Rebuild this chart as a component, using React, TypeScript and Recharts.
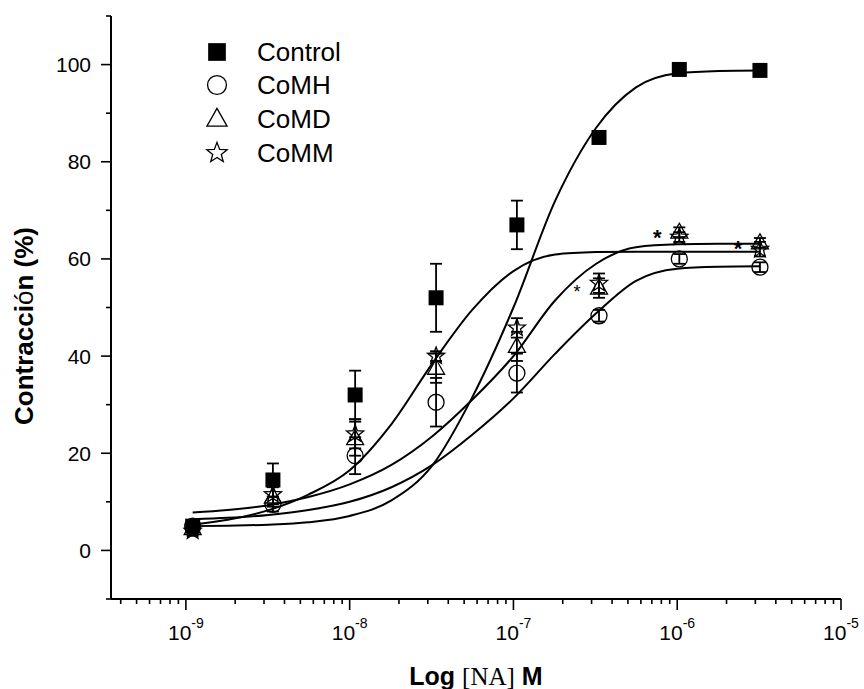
import React from 'react';
import { ComposedChart, XAxis, YAxis, Line, Scatter, ErrorBar } from 'recharts';

// concentraciones (M) de los puntos experimentales
const conc = [1.1e-9, 3.4e-9, 1.08e-8, 3.37e-8, 1.05e-7, 3.33e-7, 1.03e-6, 3.2e-6];

const controlMean = [5, 14.5, 32, 52, 67, 85, 99, 98.8];
const controlErr = [1, 3.4, 5, 7, 5, 1, 0.5, 0.5];
const comhMean = [5, 9.5, 19.5, 30.5, 36.5, 48.3, 60, 58.3];
const comhErr = [1, 1.5, 3.8, 5, 4, 1.2, 1, 1];
const comdMean = [4.5, 11, 23, 37.5, 42, 54, 65.5, 63.3];
const comdErr = [1, 2, 3.5, 3, 3, 2, 1, 1];
const commMean = [4, 11.5, 24, 40, 45.8, 55, 64.5, 62];
const commErr = [1, 2, 3, 1, 2, 2, 1, 1.5];

// curvas de ajuste
const fitX = [1.1e-9, 1.8e-9, 3.2e-9, 5.6e-9, 1e-8, 1.8e-8, 3.2e-8, 5.6e-8, 1e-7, 1.8e-7, 3.2e-7, 5.6e-7, 1e-6, 1.8e-6, 3.2e-6];
const fitControl = [5.0, 5.1, 5.3, 5.8, 7.1, 10.3, 17.5, 31.5, 50, 72, 87, 95.3, 98.2, 98.7, 98.8];
const fitCoMH = [6.4, 6.7, 7.3, 8.3, 10, 13, 17.6, 23.8, 31.3, 40.5, 48.8, 55.5, 58, 58.4, 58.5];
const fitCoMD = [7.8, 8.3, 9.3, 11, 13.6, 17.6, 23.5, 31, 40, 51.5, 59, 62.4, 63, 63.1, 63.1];
const fitCoMM = [5.3, 6.3, 8.3, 11.5, 16.5, 26, 38.5, 49.5, 57.5, 60.9, 61.4, 61.5, 61.5, 61.5, 61.5];

// asteriscos de significancia sobre CoMD
const sigIndex = [5, 6, 7];
const sigSize = [18, 22, 22];

const seriesNames = ['Control', 'CoMH', 'CoMD', 'CoMM'];

const xMajor = [1e-9, 1e-8, 1e-7, 1e-6, 1e-5];
const xMinorMult = [2, 3, 4, 5, 6, 7, 8, 9];
const xDomain = [3.49e-10, 1e-5];
const yTicks = [-10, 0, 10, 20, 30, 40, 50, 60, 70, 80, 90, 100, 110];
const yMajor = [0, 20, 40, 60, 80, 100];

const FONT = '"Liberation Sans", Arial, sans-serif';

const pts = (ys: number[], errs?: number[]) =>
  conc.map((x, i) => ({ x, y: ys[i], err: errs ? errs[i] : 0 }));
const fit = (ys: number[]) => fitX.map((x, i) => ({ x, y: ys[i] }));

const xTicks = [
  ...[1e-10, 1e-9, 1e-8, 1e-7, 1e-6].flatMap((d) => xMinorMult.map((m) => m * d)),
  ...xMajor,
]
  .filter((v) => v >= xDomain[0] && v <= xDomain[1])
  .sort((a, b) => a - b);

const isMajorX = (v: number) => xMajor.some((m) => Math.abs(v / m - 1) < 1e-6);

const XTick = (props: any) => {
  const { x, y, payload } = props;
  const v = payload.value;
  const major = isMajorX(v);
  const exp = Math.round(Math.log10(v));
  return (
    <g>
      <line x1={x} x2={x} y1={y} y2={y + (major ? 11 : 5)} stroke="#000" strokeWidth={1.6} />
      {major && (
        <text x={x} y={y + 41} textAnchor="middle" fontSize={21} fontFamily={FONT} fill="#000">
          10
          <tspan dy={-12} fontSize={14}>
            {exp}
          </tspan>
        </text>
      )}
    </g>
  );
};

const YTick = (props: any) => {
  const { x, y, payload } = props;
  const v = payload.value;
  const major = yMajor.includes(v);
  return (
    <g>
      <line x1={x - (major ? 10 : 5)} x2={x} y1={y} y2={y} stroke="#000" strokeWidth={1.6} />
      {major && (
        <text x={x - 20} y={y + 7.5} textAnchor="end" fontSize={21} fontFamily={FONT} fill="#000">
          {v}
        </text>
      )}
    </g>
  );
};

const starPoints = (cx: number, cy: number, ro: number, ri: number) => {
  const p: string[] = [];
  for (let k = 0; k < 10; k++) {
    const r = k % 2 === 0 ? ro : ri;
    const a = -Math.PI / 2 + (k * Math.PI) / 5;
    p.push(`${cx + r * Math.cos(a)},${cy + r * Math.sin(a)}`);
  }
  return p.join(' ');
};

const Marker = ({ kind, cx, cy, s = 1 }: { kind: string; cx: number; cy: number; s?: number }) => {
  if (kind === 'Control')
    return <rect x={cx - 7.5 * s} y={cy - 7.5 * s} width={15 * s} height={15 * s} fill="#000" />;
  if (kind === 'CoMH')
    return <circle cx={cx} cy={cy} r={8 * s} fill="none" stroke="#000" strokeWidth={1.3} />;
  if (kind === 'CoMD')
    return (
      <polygon
        points={`${cx},${cy - 9 * s} ${cx - 8.5 * s},${cy + 6 * s} ${cx + 8.5 * s},${cy + 6 * s}`}
        fill="none"
        stroke="#000"
        strokeWidth={1.3}
      />
    );
  return <polygon points={starPoints(cx, cy, 9 * s, 3.8 * s)} fill="none" stroke="#000" strokeWidth={1.3} />;
};

const shapeFor = (kind: string) => (p: any) => <Marker kind={kind} cx={p.cx} cy={p.cy} />;

const sigData = sigIndex.map((i, k) => ({ x: conc[i], y: comdMean[i], size: sigSize[k] }));
const SigShape = (p: any) => {
  const size = p.payload.size;
  return (
    <text
      x={p.cx - 22}
      y={p.cy + 0.575 * size}
      textAnchor="middle"
      fontSize={size}
      fontWeight={size > 20 ? 'bold' : 'normal'}
      fontFamily={FONT}
      fill="#000"
    >
      *
    </text>
  );
};

const YTitle = () => (
  <text
    x={33}
    y={326}
    transform="rotate(-90, 33, 326)"
    textAnchor="middle"
    fontSize={26}
    fontWeight="bold"
    fontFamily={FONT}
    fill="#000"
  >
    Contracci<tspan fontWeight="normal">ó</tspan>n (%)
  </text>
);

const XTitle = () => (
  <text x={476} y={685} textAnchor="middle" fontSize={25} fontWeight="bold" fontFamily={FONT} fill="#000">
    Log{' '}
    <tspan fontFamily='"Liberation Serif", "Times New Roman", serif' fontWeight="normal">
      [NA]
    </tspan>{' '}
    M
  </text>
);

const legendY = [52, 85, 119, 153];

export default function App() {
  const lineProps = {
    dataKey: 'y',
    type: 'monotone' as const,
    stroke: '#000',
    strokeWidth: 2,
    dot: false,
    activeDot: false,
    isAnimationActive: false,
    legendType: 'none' as const,
  };
  const series = [
    { name: 'Control', data: pts(controlMean, controlErr) },
    { name: 'CoMH', data: pts(comhMean, comhErr) },
    { name: 'CoMD', data: pts(comdMean, comdErr) },
    { name: 'CoMM', data: pts(commMean, commErr) },
  ];

  return (
    <div style={{ position: 'absolute', left: 0, top: 0, width: 864, height: 689, background: '#fff' }}>
      <ComposedChart width={864} height={689} margin={{ top: 16, right: 23, bottom: 0, left: 0 }}>
        <XAxis
          dataKey="x"
          type="number"
          scale="log"
          domain={xDomain}
          allowDataOverflow
          ticks={xTicks}
          interval={0}
          tick={<XTick />}
          tickLine={false}
          tickSize={0}
          tickMargin={0}
          height={90}
          axisLine={{ stroke: '#000', strokeWidth: 2 }}
          label={<XTitle />}
        />
        <YAxis
          dataKey="y"
          type="number"
          domain={[-10, 110]}
          allowDataOverflow
          ticks={yTicks}
          interval={0}
          tick={<YTick />}
          tickLine={false}
          tickSize={0}
          tickMargin={0}
          width={111}
          axisLine={{ stroke: '#000', strokeWidth: 2 }}
          label={<YTitle />}
        />
        <Line {...lineProps} data={fit(fitControl)} name="fitControl" />
        <Line {...lineProps} data={fit(fitCoMH)} name="fitCoMH" />
        <Line {...lineProps} data={fit(fitCoMD)} name="fitCoMD" />
        <Line {...lineProps} data={fit(fitCoMM)} name="fitCoMM" />
        {series.map((s) => (
          <Scatter
            key={s.name}
            name={s.name}
            data={s.data}
            shape={shapeFor(s.name)}
            isAnimationActive={false}
            legendType="none"
          >
            <ErrorBar dataKey="err" direction="y" width={6} stroke="#000" strokeWidth={1.8} />
          </Scatter>
        ))}
        <Scatter name="sig" data={sigData} shape={<SigShape />} isAnimationActive={false} legendType="none" />
      </ComposedChart>
      <svg
        width={864}
        height={689}
        style={{ position: 'absolute', left: 0, top: 0, pointerEvents: 'none' }}
      >
        {seriesNames.map((n, i) => (
          <g key={n}>
            <Marker kind={n} cx={217} cy={legendY[i]} s={1.18} />
            <text x={257} y={legendY[i] + 9.3} fontSize={26} fontFamily={FONT} fill="#000">
              {n}
            </text>
          </g>
        ))}
      </svg>
    </div>
  );
}
